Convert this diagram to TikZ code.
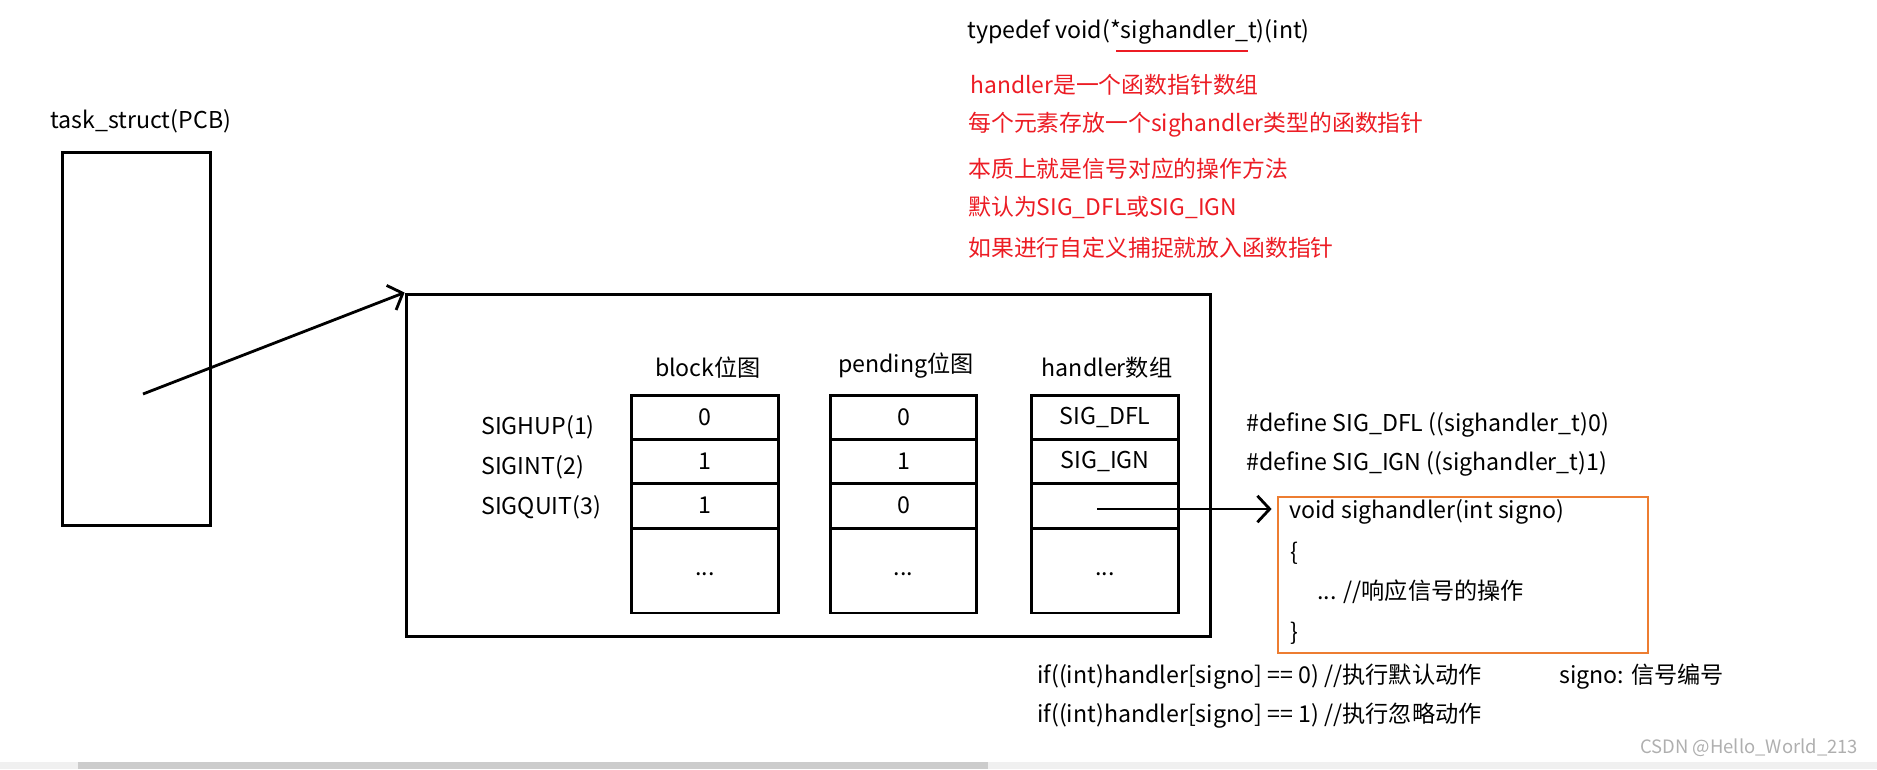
\documentclass[tikz,border=0pt]{standalone}
\usepackage{fontspec}
\setmainfont{Noto Sans CJK SC}
\usepackage{xcolor}
\usepackage{tikz}
\usetikzlibrary{arrows.meta}

\definecolor{notered}{RGB}{236,28,36}
\definecolor{fnorange}{RGB}{237,125,49}
\definecolor{markgray}{RGB}{175,175,175}

\tikzset{
  txt/.style = {inner sep=0pt, font=\fontsize{13.2pt}{15pt}\selectfont},
  note/.style = {txt, text=notered, font=\fontsize{13pt}{15pt}\selectfont},
  frame/.style = {draw, line width=1.7pt, inner sep=0pt},
  cell/.style = {frame, txt, minimum width=2.93cm, minimum height=0.88cm},
  ptr/.style = {line width=1.6pt, -{Straight Barb[length=7pt,width=15pt]}}
}

\begin{document}
\begin{tikzpicture}[x=0.02cm, y=-0.02cm]
\useasboundingbox (0,0) rectangle (1877,769);

\node[txt, anchor=west] (typedef) at (967, 32) {typedef void(*sighandler\_t)(int)};
\draw[notered, line width=1.5pt] (1116, 51) -- (1248, 51);
\node[note, anchor=west] (note1) at (970, 85) {handler是一个函数指针数组};
\node[note, anchor=west] (note2) at (968, 125) {每个元素存放一个sighandler类型的函数指针};
\node[note, anchor=west] (note3) at (968, 169) {本质上就是信号对应的操作方法};
\node[note, anchor=west] (note4) at (968, 208) {默认为SIG\_DFL或SIG\_IGN};
\node[note, anchor=west] (note5) at (968, 248) {如果进行自定义捕捉就放入函数指针};

\node[txt, anchor=west] (pcblabel) at (50, 121) {task\_struct(PCB)};
\node[frame, minimum width=2.98cm, minimum height=7.48cm] (pcb) at (136.5, 339) {};
\node[frame, minimum width=16.1cm, minimum height=6.86cm] (sigbox) at (808.5, 465.5) {};
\coordinate (pcbptr) at (143, 394);
\draw[ptr] (pcbptr) -- (sigbox.north west);

\node[txt] (blkhead) at (708, 368) {block位图};
\node[txt] (pndhead) at (906, 366) {pending位图};
\node[txt] (hdlhead) at (1107, 368) {handler数组};

\node[txt, anchor=west] (sighup) at (481, 427) {SIGHUP(1)};
\node[txt, anchor=west] (sigint) at (481, 467) {SIGINT(2)};
\node[txt, anchor=west] (sigquit) at (481, 507) {SIGQUIT(3)};

\foreach \col/\x/\a/\b/\c in {blk/705/0/1/1, pnd/903.5/0/1/0, hdl/1105/SIG\_DFL/SIG\_IGN/{}} {
  \node[cell] (\col1) at (\x, 417) {\a};
  \node[cell] (\col2) at (\x, 461) {\b};
  \node[cell, minimum height=0.9cm] (\col3) at (\x, 505.5) {\c};
  \node[cell, minimum height=1.7cm] (\col4) at (\x, 570.5) {\raisebox{-0.2cm}{...}};
}

\node[txt, anchor=west] (defdfl) at (1246, 425) {\#define SIG\_DFL ((sighandler\_t)0)};
\node[txt, anchor=west] (defign) at (1246, 464) {\#define SIG\_IGN ((sighandler\_t)1)};

\node[frame, draw=fnorange, line width=1.3pt, minimum width=7.4cm, minimum height=3.12cm] (handlerfn) at (1463, 575) {};
\node[txt, anchor=west] (fnhead) at (1289, 512) {void sighandler(int signo)};
\node[txt, anchor=west] (fnopen) at (1290, 553) {\{};
\node[txt, anchor=west] (fnbody) at (1317, 592) {... //响应信号的操作};
\node[txt, anchor=west] (fnclose) at (1290, 633) {\}};
\coordinate (hdlptr) at (1097, 509);
\draw[ptr, shorten >=3pt] (hdlptr) -- (hdlptr -| handlerfn.west);

\node[txt, anchor=west] (ifdfl) at (1037, 677) {if((int)handler[signo] == 0) //执行默认动作};
\node[txt, anchor=west] (ifign) at (1037, 716) {if((int)handler[signo] == 1) //执行忽略动作};
\node[txt, anchor=west] (signo) at (1559, 677) {signo: 信号编号};

\node[txt, anchor=west, text=markgray, font=\fontsize{10.5pt}{12pt}\selectfont] (mark) at (1640, 748) {CSDN @Hello\_World\_213};
\fill[black!6] (0, 762) rectangle (1877, 769);
\fill[black!20] (78, 762) rectangle (988, 769);
\end{tikzpicture}
\end{document}
